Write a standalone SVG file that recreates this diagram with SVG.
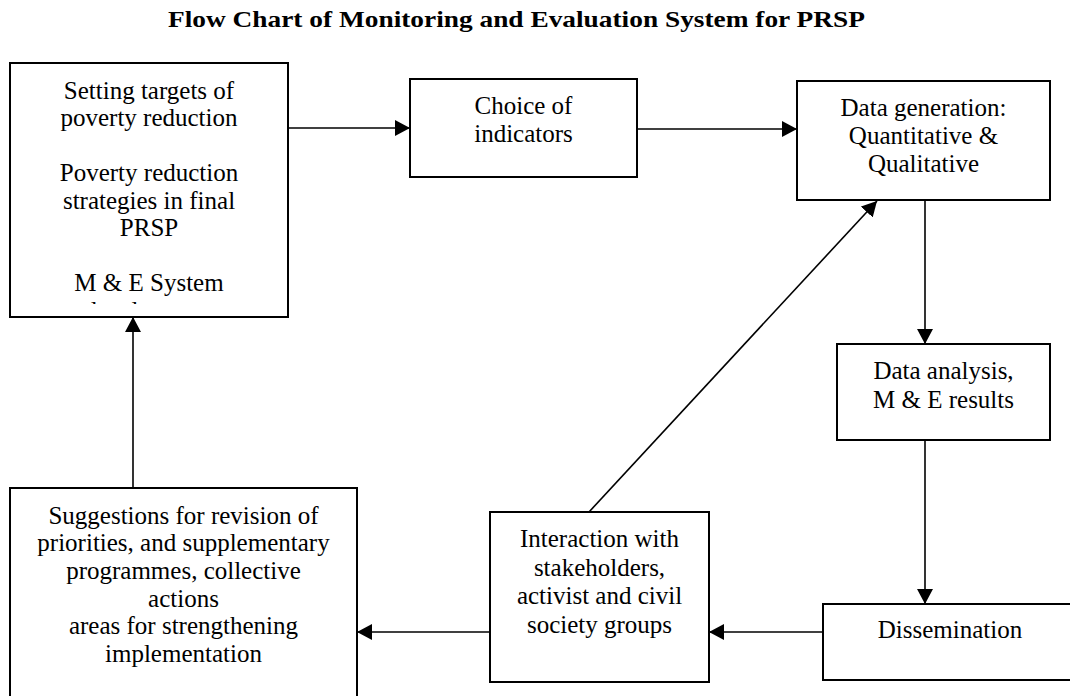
<svg xmlns="http://www.w3.org/2000/svg" width="1070" height="696" viewBox="0 0 1070 696">
<style>
.box{fill:#fff;stroke:#000;stroke-width:2}
.t{font-family:"Liberation Serif","Times New Roman",serif;font-size:25px;fill:#000;text-anchor:middle}
.title{font-family:"Liberation Serif","Times New Roman",serif;font-size:24px;font-weight:bold;fill:#000;text-anchor:middle}
.c{stroke:#000;stroke-width:1.6;fill:none;marker-end:url(#ah)}
</style>
<defs>
<marker id="ah" markerUnits="userSpaceOnUse" markerWidth="16" markerHeight="16" refX="15" refY="8" orient="auto">
<path d="M0,0 L15,8 L0,16 z" fill="#000"/>
</marker>
<clipPath id="clip1"><rect x="10" y="63" width="278" height="241"/></clipPath>
</defs>
<rect width="1070" height="696" fill="#fff"/>
<text class="title" x="516.5" y="27" textLength="697" lengthAdjust="spacingAndGlyphs">Flow Chart of Monitoring and Evaluation System for PRSP</text>

<g id="connectors">
<line class="c" x1="288" y1="128" x2="410" y2="128"/>
<line class="c" x1="637" y1="129" x2="797" y2="129"/>
<line class="c" x1="925" y1="200" x2="925" y2="344"/>
<line class="c" x1="925" y1="440" x2="925" y2="604"/>
<line class="c" x1="823" y1="632" x2="709" y2="632"/>
<line class="c" x1="490" y1="632" x2="357" y2="632"/>
<line class="c" x1="589" y1="512" x2="877" y2="201"/>
<line class="c" x1="133" y1="488" x2="133" y2="317"/>
</g>

<g id="node-targets">
<rect class="box" x="10" y="63" width="278" height="254"/>
<g clip-path="url(#clip1)">
<text class="t" x="149" y="98.5">Setting targets of</text>
<text class="t" x="149" y="126">poverty reduction</text>
<text class="t" x="149" y="181">Poverty reduction</text>
<text class="t" x="149" y="208.5">strategies in final</text>
<text class="t" x="149" y="236">PRSP</text>
<text class="t" x="149" y="291">M &amp; E System</text>
<text class="t" x="149" y="318.5">development</text>
</g>
</g>

<g id="node-indicators">
<rect class="box" x="410" y="79" width="227" height="98"/>
<text class="t" x="523.5" y="113.5">Choice of</text>
<text class="t" x="523.5" y="141.5">indicators</text>
</g>

<g id="node-datagen">
<rect class="box" x="797" y="81" width="253" height="119"/>
<text class="t" x="923.5" y="115.5">Data generation:</text>
<text class="t" x="923.5" y="143.5">Quantitative &amp;</text>
<text class="t" x="923.5" y="171.5">Qualitative</text>
</g>

<g id="node-analysis">
<rect class="box" x="837" y="344" width="213" height="96"/>
<text class="t" x="943.5" y="379">Data analysis,</text>
<text class="t" x="943.5" y="407.5">M &amp; E results</text>
</g>

<g id="node-dissemination">
<rect class="box" x="823" y="604" width="255" height="76"/>
<text class="t" x="950" y="638">Dissemination</text>
</g>

<g id="node-interaction">
<rect class="box" x="490" y="512" width="219" height="170"/>
<text class="t" x="599.5" y="547">Interaction with</text>
<text class="t" x="599.5" y="575.5">stakeholders,</text>
<text class="t" x="599.5" y="604">activist and civil</text>
<text class="t" x="599.5" y="632.5">society groups</text>
</g>

<g id="node-suggestions">
<rect class="box" x="10" y="488" width="347" height="220"/>
<text class="t" x="183.5" y="523.5">Suggestions for revision of</text>
<text class="t" x="183.5" y="551.2">priorities, and supplementary</text>
<text class="t" x="183.5" y="578.9">programmes, collective</text>
<text class="t" x="183.5" y="606.6">actions</text>
<text class="t" x="183.5" y="634.3">areas for strengthening</text>
<text class="t" x="183.5" y="662">implementation</text>
</g>
</svg>
